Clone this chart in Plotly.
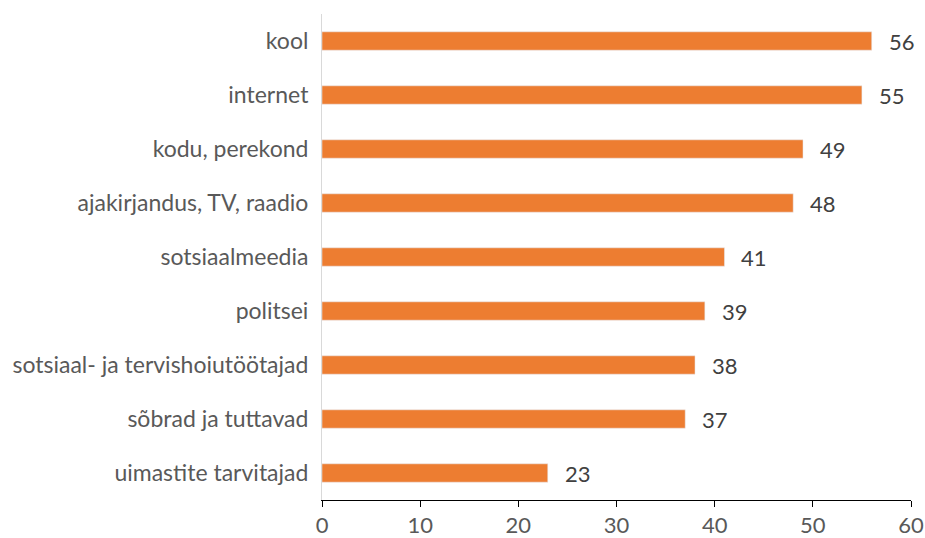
import plotly.graph_objects as go

categories = [
    "kool",
    "internet",
    "kodu, perekond",
    "ajakirjandus, TV, raadio",
    "sotsiaalmeedia",
    "politsei",
    "sotsiaal- ja tervishoiutöötajad",
    "sõbrad ja tuttavad",
    "uimastite tarvitajad",
]
values = [56, 55, 49, 48, 41, 39, 38, 37, 23]

fig = go.Figure(go.Bar(
    x=values,
    y=categories,
    orientation="h",
    width=0.34,
    marker=dict(color="#ED7D31"),
    hoverinfo="skip",
))

# value labels to the right of each bar
for cat, val in zip(categories, values):
    fig.add_annotation(
        x=val, y=cat, text=str(val),
        showarrow=False, xanchor="left", xshift=15,
        font=dict(size=22, color="#404040"),
    )

fig.update_layout(
    width=925,
    height=538,
    margin=dict(l=322, r=14, t=14, b=38, autoexpand=False),
    plot_bgcolor="white",
    paper_bgcolor="white",
    font=dict(family="Lato, Open Sans, sans-serif", size=23, color="#595959"),
    showlegend=False,
)
fig.update_xaxes(
    range=[0, 60],
    dtick=10,
    automargin=False,
    showgrid=False,
    zeroline=False,
    showline=True,
    linecolor="#000000",
    linewidth=1,
    ticks="outside",
    ticklen=6,
    tickcolor="#000000",
    tickfont=dict(size=22, color="#595959"),
)
fig.update_yaxes(
    categoryorder="array",
    categoryarray=categories[::-1],
    automargin=False,
    showgrid=False,
    showline=True,
    linecolor="#d9d9d9",
    linewidth=1,
    ticks="",
    ticklabelstandoff=8,
    tickfont=dict(size=23, color="#595959"),
)
fig.write_html(
    "out.html",
    config={"displayModeBar": False},
    post_script="document.body.style.margin='0';",
)
